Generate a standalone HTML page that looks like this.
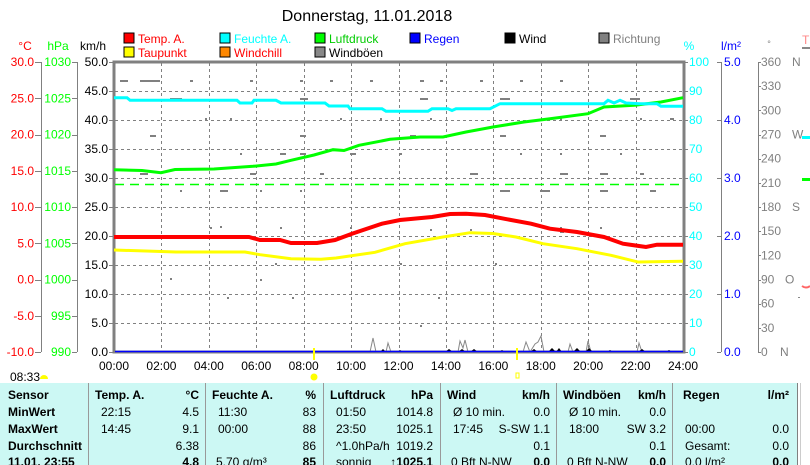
<!DOCTYPE html>
<html><head><meta charset="utf-8"><style>
html,body{margin:0;padding:0;background:#fff;width:810px;height:465px;overflow:hidden}
svg{display:block;font-family:"Liberation Sans",sans-serif}
</style></head><body>
<svg width="810" height="465" viewBox="0 0 810 465" xmlns="http://www.w3.org/2000/svg">
<text x="367" y="21" font-size="16" text-anchor="middle" fill="#000">Donnerstag, 11.01.2018</text>
<!-- legend -->
<g font-size="12">
<rect x="124" y="33" width="10" height="10" fill="#f00" stroke="#000"/><text x="138" y="43" fill="#f00">Temp. A.</text>
<rect x="124" y="47" width="10" height="10" fill="#ff0" stroke="#000"/><text x="138" y="57" fill="#f00">Taupunkt</text>
<rect x="220" y="33" width="10" height="10" fill="#0ff" stroke="#000"/><text x="234" y="43" fill="#0ff">Feuchte A.</text>
<rect x="220" y="47" width="10" height="10" fill="#f80" stroke="#000"/><text x="234" y="57" fill="#f00">Windchill</text>
<rect x="315" y="33" width="10" height="10" fill="#0f0" stroke="#000"/><text x="329" y="43" fill="#0c0">Luftdruck</text>
<rect x="315" y="47" width="10" height="10" fill="#888" stroke="#000"/><text x="329" y="57" fill="#000">Windböen</text>
<rect x="410" y="33" width="10" height="10" fill="#00f" stroke="#000"/><text x="424" y="43" fill="#00f">Regen</text>
<rect x="505" y="33" width="10" height="10" fill="#000" stroke="#000"/><text x="519" y="43" fill="#000">Wind</text>
<rect x="599" y="33" width="10" height="10" fill="#808080" stroke="#000"/><text x="613" y="43" fill="#808080">Richtung</text>
</g>
<!-- unit labels -->
<g font-size="12">
<text x="25" y="50" text-anchor="middle" fill="#f00">°C</text>
<text x="58" y="50" text-anchor="middle" fill="#0f0">hPa</text>
<text x="93" y="50" text-anchor="middle" fill="#000">km/h</text>
<text x="689" y="50" text-anchor="middle" fill="#0ff">%</text>
<text x="731" y="50" text-anchor="middle" fill="#00f">l/m²</text>
<text x="769" y="47" text-anchor="middle" fill="#808080" font-size="9">°</text>
<text x="802" y="44" fill="#f88">T</text>
<rect x="802" y="47" width="8" height="2" fill="#888"/>
<rect x="802" y="136" width="8" height="3" fill="#0ff"/>
<rect x="802" y="178" width="8" height="3" fill="#0f0"/>
<path d="M802 286 q4 3 8 0" stroke="#f66" fill="none" stroke-width="2"/>
<rect x="798" y="297" width="2" height="1" fill="#888"/>
</g>
<!-- axes lines -->
<g stroke="#808080" stroke-width="1">
<line x1="41.5" y1="62" x2="41.5" y2="352"/>
<line x1="77.5" y1="62" x2="77.5" y2="352"/>
<line x1="721.5" y1="62" x2="721.5" y2="352"/>
<line x1="758.5" y1="62" x2="758.5" y2="352"/>
</g>
<g id="ticks" stroke="#808080"></g>
<g font-size="12" id="lbl"></g>
<!-- grid -->
<g stroke="#808080" stroke-dasharray="3,3" stroke-width="1" id="grid"></g>
<!-- plot frame -->
<rect x="114" y="62" width="570" height="290" fill="none" stroke="#808080" stroke-width="3"/>
<!-- direction dots -->
<g fill="#808080" id="dots"></g>
<!-- dashed green -->
<line x1="115" y1="184.5" x2="683" y2="184.5" stroke="#0f0" stroke-width="1.5" stroke-dasharray="9,6"/>
<!-- series -->
<polyline fill="none" stroke="#0f0" stroke-width="3" points="114,169.7 142,170.5 161,172.7 175,169.5 214,169 253,166.3 276,164 291,160.3 314,155 333,149.7 344,150.5 359,145.3 390,139.3 420,137 443,137 466,132 493,127 524,122 550,118.7 588,113.7 604,107 634,105.3 661,102 683,97.7"/>
<polyline fill="none" stroke="#0ff" stroke-width="3" points="114,97.7 127,97.7 130,100.3 237,100.3 240,103 252,103 254,100.3 276,100.3 281,103 325,103 329,106 348,106 350,108.7 382,108.7 386,111.3 428,111.3 432,108.7 448,108.7 452,110.5 456,108.7 490,108.7 500,103.7 604,103.7 608,100.3 614,103 620,100.3 626,103 640,103.7 657,103.7 661,106.3 683,106.3"/>
<polyline fill="none" stroke="#f00" stroke-width="4" points="114,237 249,237 260,240 280,240 291,243 317,243 335,240 352,233.7 382,223.7 400,220 432,217 450,214 466,213.7 485,215 504,218.7 531,223.7 550,228.7 577,232 604,237 623,243.7 646,247 657,244.7 683,244.7"/>
<polyline fill="none" stroke="#ff0" stroke-width="3" points="114,250 176,252 245,252 260,254.7 291,258.7 321,259.3 336,258 375,252.3 405,243.7 443,237 470,232.7 493,233.5 516,237 543,243.7 577,248.7 611,255.3 638,262 683,261.3"/>
<!-- wind spikes -->
<polyline fill="none" stroke="#888" stroke-width="1" points="370,352 373,338 376,352 386,352 388,343 391,352 458,352 460,341 463,348 465,340 468,352 523,352 526,342 530,352 535,344 538,342 541,336 544,352 568,352 570,344 573,352 586,352 588,341 591,352 637,352 639,343 642,352"/>
<path fill="#000" d="M380,352 l3,-3 l3,3 z M397,352 l3,-2 l3,2z M445,352 l4,-3 l4,3z M458,352 l4,-3 l4,3z M470,352 l4,-3 l4,3z M499,352 l3,-2 l3,2z M530,352 l4,-3 l4,3z M548,352 l4,-4 l4,4z M556,352 l3,-4 l3,4z M573,352 l4,-4 l4,4z M585,352 l4,-4 l4,4z M607,352 l3,-2 l3,2z M638,352 l4,-3 l4,3z M666,352 l3,-2 l3,2z"/>
<line x1="115" y1="351.5" x2="683" y2="351.5" stroke="#00f" stroke-width="1.5"/>
<line x1="314" y1="348" x2="314" y2="360" stroke="#ff0" stroke-width="2"/>
<line x1="517" y1="348" x2="517" y2="360" stroke="#ff0" stroke-width="2"/>
<circle cx="314" cy="377" r="3.5" fill="#ff0"/>
<rect x="516" y="373" width="3" height="5" fill="none" stroke="#ff0"/>
<text x="10" y="381" font-size="12" fill="#000">08:33</text>
<path d="M40 379 a4 4 0 0 1 8 0 z" fill="#ff0"/>
<!-- table -->
<rect x="0" y="383" width="797" height="82" fill="#ccf8f4"/>
<line x1="797.5" y1="383" x2="797.5" y2="465" stroke="#808080"/>
<line x1="800.5" y1="383" x2="800.5" y2="465" stroke="#ccc"/>
<g stroke="#999"><line x1="88.5" y1="383" x2="88.5" y2="465"/><line x1="205.5" y1="383" x2="205.5" y2="465"/><line x1="323.5" y1="383" x2="323.5" y2="465"/><line x1="440.5" y1="383" x2="440.5" y2="465"/><line x1="556.5" y1="383" x2="556.5" y2="465"/><line x1="672.5" y1="383" x2="672.5" y2="465"/></g>
<g font-size="12" fill="#000" id="tbl"></g>
</svg>
<script>
var ns="http://www.w3.org/2000/svg";
function T(p,x,y,s,o){var e=document.createElementNS(ns,"text");e.setAttribute("x",x);e.setAttribute("y",y);for(var k in o)e.setAttribute(k,o[k]);e.textContent=s;document.getElementById(p).appendChild(e);}
function L(p,x1,y1,x2,y2){var e=document.createElementNS(ns,"line");e.setAttribute("x1",x1);e.setAttribute("y1",y1);e.setAttribute("x2",x2);e.setAttribute("y2",y2);document.getElementById(p).appendChild(e);}
var i,y;
for(i=0;i<=8;i++){y=62+i*36.25;
T("lbl",34,y+4,(30-5*i).toFixed(1),{"text-anchor":"end",fill:"#f00"});
T("lbl",71,y+4,String(1030-5*i),{"text-anchor":"end",fill:"#0f0"});
L("ticks",35,Math.round(y)+.5,41,Math.round(y)+.5);L("ticks",72,Math.round(y)+.5,77,Math.round(y)+.5);}
for(i=0;i<=10;i++){y=62+i*29;
T("lbl",108,y+4,(50-5*i).toFixed(1),{"text-anchor":"end",fill:"#000"});
L("ticks",109,y+.5,114,y+.5);
T("lbl",689,y+4,String(100-10*i),{fill:"#0ff"});
L("ticks",684,y+.5,688,y+.5);
if(i>0&&i<10)L("grid",115,y+.5,683,y+.5);}
for(i=0;i<=5;i++){y=62+i*58;T("lbl",724,y+4,(5-i).toFixed(1),{fill:"#00f"});L("ticks",717,y+.5,721,y+.5);}
var dn={0:"N",3:"W",6:"S",9:"O",12:"N"};
for(i=0;i<=12;i++){y=62+i*290/12;var v=360-30*i;var s=String(v);T("lbl",761,y+4,s,{fill:"#808080"});if(dn[i])T("lbl",i==9?785:(i==12?780:792),y+4,dn[i],{fill:"#808080"});L("ticks",758,Math.round(y)+.5,761,Math.round(y)+.5);}
for(i=0;i<=12;i++){var x=114+i*569/12;T("lbl",x,370,(i*2<10?"0":"")+(i*2)+":00",{"text-anchor":"middle",fill:"#000"});if(i>0&&i<12)L("grid",Math.round(x)+.5,63,Math.round(x)+.5,351);}
// dots
var d=[[120,80,8],[140,80,20],[190,80,3],[250,80,3],[300,80,3],[330,80,3],[370,80,3],[420,80,4],[440,80,3],[480,80,3],[520,80,3],[560,80,3],[170,98,12],[300,98,8],[420,98,8],[500,98,10],[630,98,10],[205,118,2],[230,118,2],[340,118,2],[380,118,2],[430,118,2],[560,118,2],[640,118,2],[670,118,4],[150,135,6],[300,135,6],[410,135,6],[500,135,6],[600,135,6],[240,153,2],[280,153,6],[300,153,6],[350,153,6],[400,153,2],[520,153,2],[560,153,2],[620,153,2],[140,173,8],[250,173,6],[320,173,4],[470,173,8],[560,173,8],[600,173,8],[640,173,4],[180,190,2],[220,190,8],[260,190,2],[300,190,2],[500,190,10],[540,190,10],[600,190,8],[650,190,6],[210,227,2],[430,229,2],[470,229,2],[560,227,2],[220,226,2],[350,227,2],[560,231,4],[600,227,2],[280,227,2],[275,263,2],[400,263,2],[495,263,2],[170,278,2],[260,279,2],[227,297,2],[292,297,2],[438,297,2],[420,325,2]];
d.forEach(function(a){var e=document.createElementNS(ns,"rect");e.setAttribute("x",a[0]);e.setAttribute("y",a[1]);e.setAttribute("width",a[2]);e.setAttribute("height",2);document.getElementById("dots").appendChild(e);});
// table
var B={"font-weight":"bold"};
var rows=[399,416,433,450,466];
["Sensor","MinWert","MaxWert","Durchschnitt","11.01. 23:55"].forEach(function(s,j){T("tbl",8,rows[j],s,B);});
function col(x0,x1,h,u,cells){T("tbl",x0,rows[0],h,B);T("tbl",x1,rows[0],u,{"text-anchor":"end","font-weight":"bold"});cells.forEach(function(c,j){if(c[0])T("tbl",x0+(c[2]||6),rows[j+1],c[0],{});if(c[1])T("tbl",x1,rows[j+1],c[1],j==3?{"text-anchor":"end","font-weight":"bold"}:{"text-anchor":"end"});});}
col(95,199,"Temp. A.","°C",[["22:15","4.5"],["14:45","9.1"],["","6.38"],["","4.8"]]);
col(212,316,"Feuchte A.","%",[["11:30","83"],["00:00","88"],["","86"],["5.70 g/m³","85",4]]);
col(330,433,"Luftdruck","hPa",[["01:50","1014.8"],["23:50","1025.1"],["^1.0hPa/h","1019.2",0],["sonnig","↑1025.1",0]]);
col(447,550,"Wind","km/h",[["Ø 10 min.","0.0",0],["17:45","S-SW 1.1"],["","0.1"],["0 Bft N-NW","0.0",4]]);
col(563,666,"Windböen","km/h",[["Ø 10 min.","0.0",0],["18:00","SW 3.2"],["","0.1"],["0 Bft N-NW","0.0",4]]);
col(683,789,"Regen","l/m²",[["",""],["00:00","0.0",2],["Gesamt:","0.0",2],["0.0 l/m²","0.0",2]]);
</script>
</body></html>
